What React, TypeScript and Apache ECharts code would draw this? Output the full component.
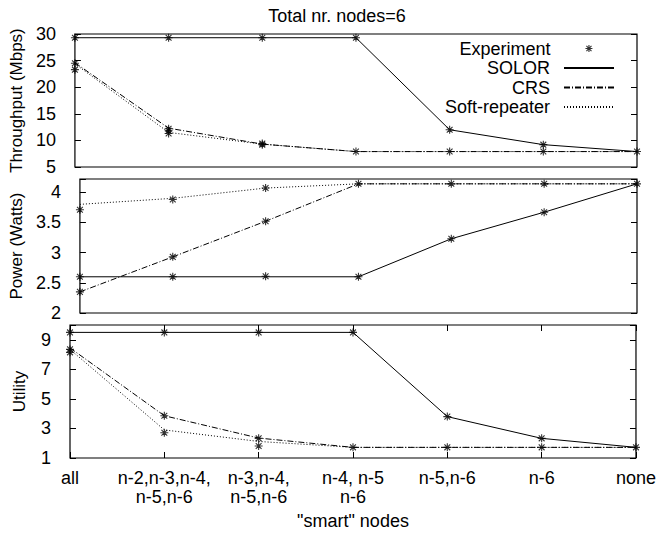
import React, { useEffect, useRef } from 'react';
import * as echarts from 'echarts';

const categories = [
  'all',
  'n-2,n-3,n-4,\nn-5,n-6',
  'n-3,n-4,\nn-5,n-6',
  'n-4, n-5\nn-6',
  'n-5,n-6',
  'n-6',
  'none',
];

// Throughput (Mbps)
const thrSolor = [29.3, 29.3, 29.3, 29.3, 12.0, 9.2, 7.9];
const thrCrs = [24.6, 12.3, 9.3, 7.9, 7.9, 7.9, 7.9];
const thrSoft = [24.4, 11.5, 9.3, 7.9, 7.9, 7.9, 7.9];
const expThr = [
  [29.3, 24.5, 23.3],
  [29.3, 12.2, 11.8, 11.3],
  [29.3, 9.4, 9.2],
  [29.3, 7.9],
  [12.0, 7.9],
  [9.2, 7.9],
  [7.9],
];

// Power (Watts)
const powSolor = [2.6, 2.6, 2.6, 2.6, 3.23, 3.67, 4.14];
const powCrs = [2.35, 2.93, 3.52, 4.14, 4.14, 4.14, 4.14];
const powSoft = [3.8, 3.9, 4.07, 4.14, 4.14, 4.14, 4.14];
const expPow = [
  [2.6, 2.35, 3.71],
  [2.6, 2.93, 3.88],
  [2.61, 3.52, 4.07],
  [2.6, 4.14],
  [3.23, 4.14],
  [3.67, 4.14],
  [4.14],
];

// Utility
const utilSolor = [9.5, 9.5, 9.5, 9.5, 3.8, 2.33, 1.72];
const utilCrs = [8.45, 3.86, 2.35, 1.72, 1.72, 1.72, 1.72];
const utilSoft = [8.35, 2.9, 2.12, 1.72, 1.72, 1.72, 1.72];
const expUtil = [
  [9.5, 8.35, 8.15],
  [9.5, 3.86, 2.71],
  [9.5, 2.33, 1.81],
  [9.5, 1.72],
  [3.8, 1.72],
  [2.33, 1.72],
  [1.72],
];

const yNames = ['Throughput (Mbps)', 'Power (Watts)', 'Utility'];
const yMin = [5, 2, 1];
const yMax = [30, 4.22, 10];
const yInterval = [5, 0.5, 2];

const FONT = '"Liberation Sans", Arial, Helvetica, sans-serif';
const STAR = 'path://M0,-4L0,4M-4,0L4,0M-2.9,-2.9L2.9,2.9M-2.9,2.9L2.9,-2.9';

export default function App() {
  const ref = useRef<HTMLDivElement>(null);

  useEffect(() => {
    const chart = echarts.init(ref.current!, null, { renderer: 'svg' });

    const grids = [
      { left: 70, right: 22, top: 34, height: 133 },
      { left: 70, right: 22, top: 179, height: 134 },
      { left: 70, right: 22, top: 325, height: 133 },
    ].map((g) => ({ ...g, show: true, borderColor: '#000', borderWidth: 1.2, backgroundColor: 'transparent' }));

    const textBase = { fontFamily: FONT, fontSize: 18, color: '#000' };
    const nameText = { fontFamily: FONT, fontSize: 17, color: '#000' };
    const tick = { show: true, inside: true, length: 6, lineStyle: { color: '#000', width: 1 } };

    const fmt = (min: number, step: number) => (v: number) => {
      const k = (v - min) / step;
      return Math.abs(k - Math.round(k)) < 1e-6 ? String(v) : '';
    };

    const xAxes: any[] = [0, 1, 2].map((i) => ({
      type: 'category',
      gridIndex: i,
      data: categories,
      boundaryGap: false,
      axisLine: { show: false },
      axisTick: { ...tick, show: i === 2 },
      axisLabel: { show: i === 2, interval: 0, margin: 10, lineHeight: 19, ...textBase },
      splitLine: { show: false },
      name: i === 2 ? '"smart" nodes' : '',
      nameLocation: 'middle',
      nameGap: 54,
      nameTextStyle: textBase,
    }));
    xAxes.push({
      type: 'category',
      gridIndex: 2,
      position: 'top',
      data: categories,
      boundaryGap: false,
      axisLine: { show: false },
      axisTick: tick,
      axisLabel: { show: false },
      splitLine: { show: false },
    });

    const nameGaps = [44, 42, 42];
    const yAxes: any[] = [];
    [0, 1, 2].forEach((i) => {
      yAxes.push({
        type: 'value',
        gridIndex: i,
        min: yMin[i],
        max: yMax[i],
        interval: yInterval[i],
        axisLine: { show: false },
        axisTick: tick,
        axisLabel: { margin: 19, formatter: fmt(yMin[i], yInterval[i]), ...textBase },
        splitLine: { show: false },
        name: yNames[i],
        nameLocation: 'middle',
        nameGap: nameGaps[i],
        nameRotate: 90,
        nameTextStyle: nameText,
      });
    });
    [0, 1, 2].forEach((i) => {
      yAxes.push({
        type: 'value',
        gridIndex: i,
        position: 'right',
        min: yMin[i],
        max: yMax[i],
        interval: yInterval[i],
        axisLine: { show: false },
        axisTick: tick,
        axisLabel: { show: false },
        splitLine: { show: false },
      });
    });

    const lineSeries = (name: string, data: number[], idx: number, type: any) => ({
      type: 'line',
      name,
      xAxisIndex: idx,
      yAxisIndex: idx,
      data,
      symbol: 'none',
      lineStyle: { color: '#000', width: 1, type },
      itemStyle: { color: '#000' },
      z: 3,
    });
    const expSeries = (vals: number[][], idx: number) => ({
      type: 'scatter',
      name: 'Experiment',
      xAxisIndex: idx,
      yAxisIndex: idx,
      data: vals.flatMap((vs, i) => vs.map((v) => [i, v])),
      symbol: STAR,
      symbolSize: 8,
      itemStyle: { color: 'rgba(0,0,0,0)', borderColor: '#000', borderWidth: 1.1 },
      z: 4,
    });

    const DASHDOT = [6, 2, 1, 2];
    const DOT = [1, 2];
    const series: any[] = [
      lineSeries('SOLOR', thrSolor, 0, 'solid'),
      lineSeries('CRS', thrCrs, 0, DASHDOT),
      lineSeries('Soft-repeater', thrSoft, 0, DOT),
      expSeries(expThr, 0),
      lineSeries('SOLOR', powSolor, 1, 'solid'),
      lineSeries('CRS', powCrs, 1, DASHDOT),
      lineSeries('Soft-repeater', powSoft, 1, DOT),
      expSeries(expPow, 1),
      lineSeries('SOLOR', utilSolor, 2, 'solid'),
      lineSeries('CRS', utilCrs, 2, DASHDOT),
      lineSeries('Soft-repeater', utilSoft, 2, DOT),
      expSeries(expUtil, 2),
    ];

    const legendNames = ['SOLOR', 'CRS', 'Soft-repeater'];
    const legendCenters = [68, 87.5, 107];
    const legends: any[] = legendNames.map((n, i) => ({
      data: [n],
      orient: 'horizontal',
      align: 'right',
      right: 44,
      top: legendCenters[i] - 9,
      padding: 0,
      itemWidth: 50,
      itemHeight: 14,
      selectedMode: false,
      itemStyle: { color: 'rgba(0,0,0,0)', borderColor: 'rgba(0,0,0,0)', borderWidth: 0 },
      textStyle: { ...textBase, lineHeight: 18, padding: [0, 9, 0, 0] },
    }));
    legends.unshift({
      data: [{ name: 'Experiment', icon: STAR }],
      orient: 'horizontal',
      align: 'right',
      right: 66,
      top: 48.5 - 9,
      padding: 0,
      itemWidth: 7,
      itemHeight: 7,
      selectedMode: false,
      itemStyle: { color: 'rgba(0,0,0,0)', borderColor: '#000', borderWidth: 1.1 },
      textStyle: { ...textBase, lineHeight: 18, padding: [0, 30, 0, 0] },
    });

    chart.setOption({
      animation: false,
      backgroundColor: '#fff',
      title: {
        text: 'Total nr. nodes=6',
        left: 332,
        top: 2,
        textAlign: 'center',
        textStyle: { ...textBase, fontWeight: 'normal' },
      },
      legend: legends,
      grid: grids,
      xAxis: xAxes,
      yAxis: yAxes,
      series,
    });

    return () => chart.dispose();
  }, []);

  return <div ref={ref} style={{ position: 'fixed', left: 0, top: 0, width: 659, height: 535 }} />;
}
